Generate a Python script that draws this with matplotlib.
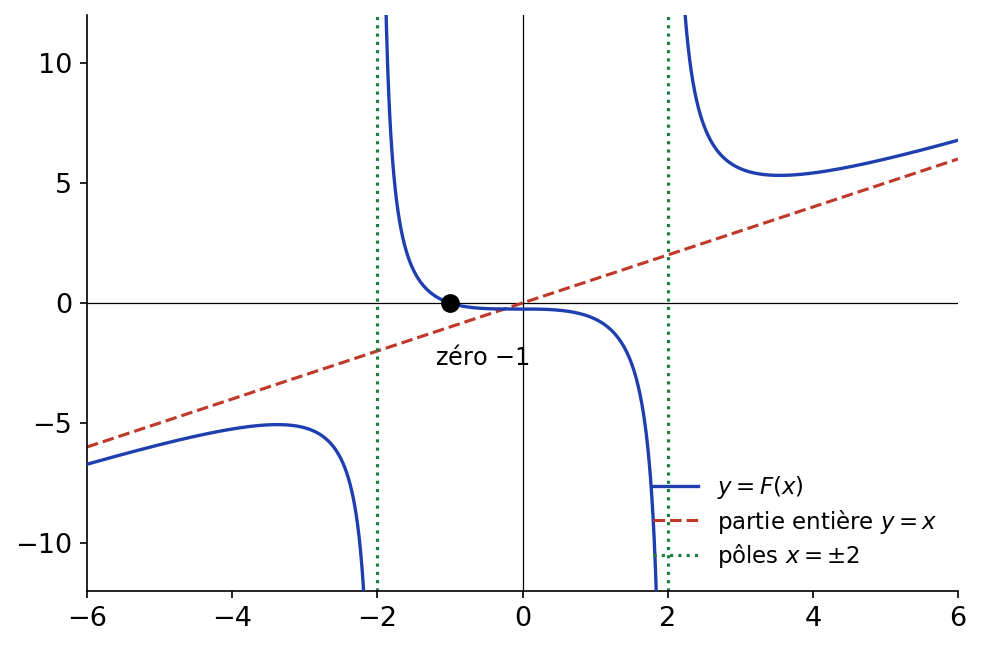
import matplotlib
matplotlib.use("Agg")
import matplotlib.pyplot as plt
import numpy as np

# F(x) = (x^3 + 1) / (x^2 - 4)
num_coeffs = [1, 0, 0, 1]
den_coeffs = [1, 0, -4]
poles = [-2, 2]
zero_x = -1
x_range = [-6, 6]
y_range = [-12, 12]
x_ticks = [-6, -4, -2, 0, 2, 4, 6]
y_ticks = [-10, -5, 0, 5, 10]

blue = '#1f3fb0'
red = '#c0392b'
green = '#1a7f3c'

fig = plt.figure(figsize=(981/150, 649/150), dpi=150)
ax = fig.add_axes([87/981, 1 - 591/649, (958-87)/981, (591-15)/649])

# branches between poles
edges = [x_range[0]] + poles + [x_range[1]]
for i in range(len(edges) - 1):
    xs = np.linspace(edges[i] + 1e-3, edges[i+1] - 1e-3, 800)
    ys = np.polyval(num_coeffs, xs) / np.polyval(den_coeffs, xs)
    ax.plot(xs, ys, color=blue, lw=1.6, label='$y = F(x)$' if i == 0 else None, zorder=3)

xs = np.array(x_range)
ax.plot(xs, xs, '--', color=red, lw=1.5, label='partie entière $y = x$', zorder=2)
for j, p in enumerate(poles):
    ax.axvline(p, color=green, ls=':', lw=1.5, label='pôles $x = \\pm2$' if j == 0 else None, zorder=2)

ax.axhline(0, color='black', lw=0.6, zorder=1)
ax.axvline(0, color='black', lw=0.6, zorder=1)

ax.plot([zero_x], [0], 'o', color='black', ms=8, zorder=5)
ax.text(-0.55, -2.25, 'zéro $-1$', ha='center', va='center', fontsize=11.5)

ax.set_xlim(x_range)
ax.set_ylim(y_range)
ax.set_xticks(x_ticks)
ax.set_yticks(y_ticks)
ax.tick_params(labelsize=13)
ax.spines['top'].set_visible(False)
ax.spines['right'].set_visible(False)

ax.legend(loc='lower right', frameon=False, fontsize=11, labelspacing=0.3)

fig.savefig('out.png', dpi=150)
